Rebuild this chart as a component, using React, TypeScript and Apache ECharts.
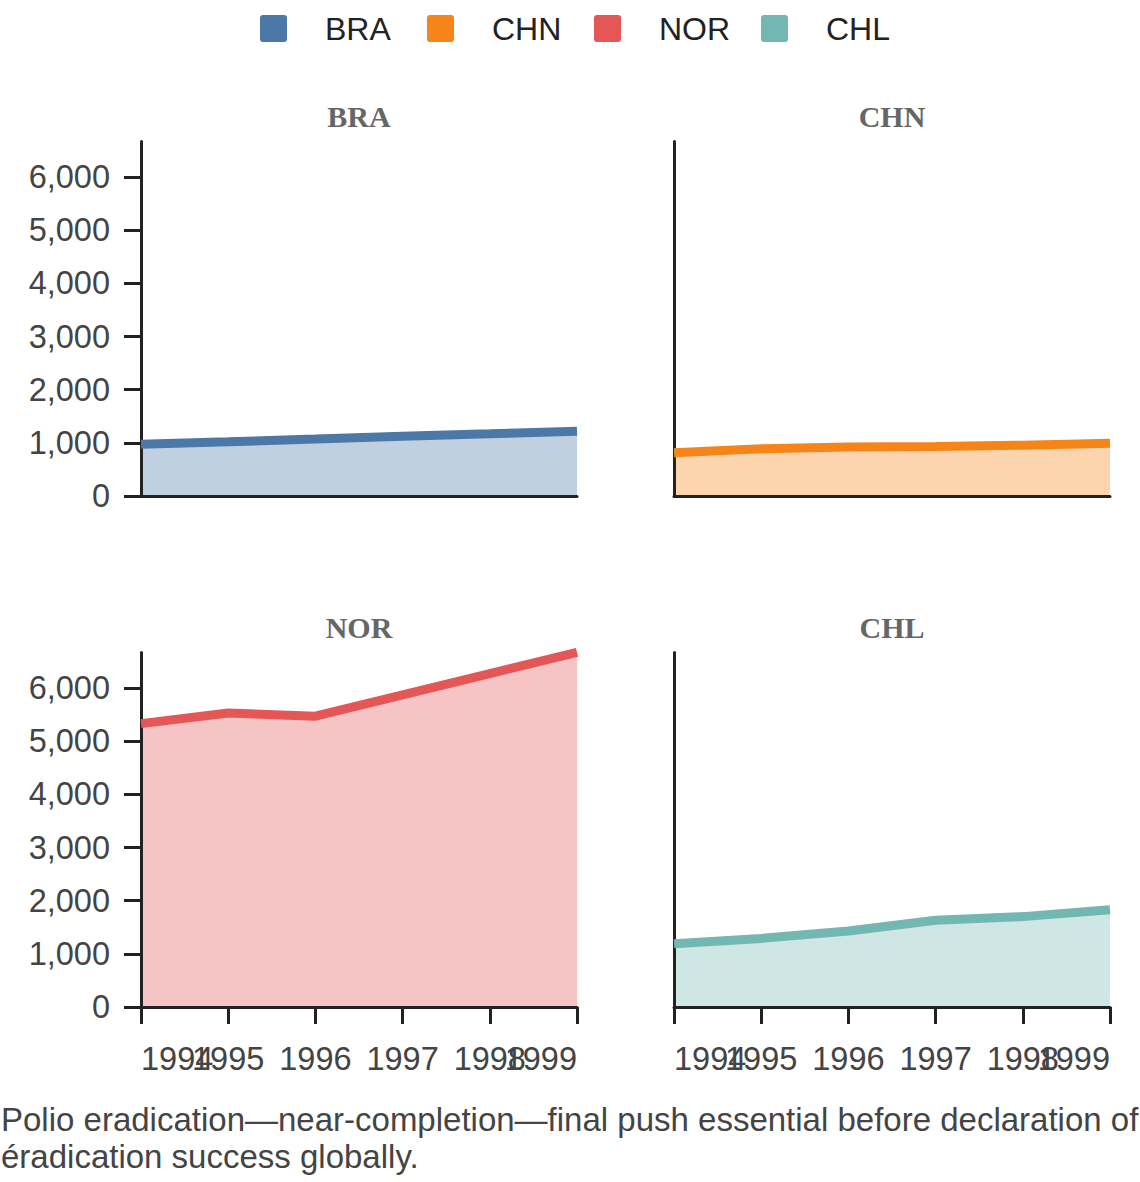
import React, { useEffect, useRef } from "react";
import * as echarts from "echarts";

const years = ["1994", "1995", "1996", "1997", "1998", "1999"];
const countries = ["BRA", "CHN", "NOR", "CHL"];
const braValues = [975, 1020, 1070, 1125, 1170, 1220];
const chnValues = [815, 890, 920, 930, 955, 990];
const norValues = [5330, 5530, 5470, 5870, 6270, 6670];
const chlValues = [1190, 1290, 1430, 1630, 1700, 1830];
const yTicks = [0, 1000, 2000, 3000, 4000, 5000, 6000];
const colors = ["#4c78a8", "#f58518", "#e45756", "#72b7b2"];
const caption =
  "Polio eradication\u2014near-completion\u2014final push essential before declaration of\n\u00e9radication success globally.";

const seriesValues = [braValues, chnValues, norValues, chlValues];

export default function App() {
  const ref = useRef<HTMLDivElement>(null);

  useEffect(() => {
    document.body.style.margin = "0";
    if (!ref.current) return;
    const chart = echarts.init(ref.current, null, { renderer: "svg" });

    const yMax = Math.max(...seriesValues.flat());
    const pxPerUnit = 319 / 6000;
    const plotH = yMax * pxPerUnit;
    const lefts = [141, 674, 141, 674];
    const bottoms = [496, 496, 1007, 1007];
    const plotW = 436;
    const font = "'Liberation Sans', Arial, sans-serif";

    const grids = countries.map((_, i) => ({
      left: lefts[i],
      top: bottoms[i] - plotH,
      width: plotW,
      height: plotH,
      containLabel: false,
    }));

    const xAxes = countries.map((_, i) => {
      const bottomRow = i >= 2;
      return {
        type: "category",
        gridIndex: i,
        data: years,
        boundaryGap: false,
        z: 3,
        axisLine: { show: true, onZero: true, lineStyle: { color: "#222", width: 3 } },
        axisTick: {
          show: bottomRow,
          interval: 0,
          length: 17,
          lineStyle: { color: "#222", width: 3 },
        },
        axisLabel: {
          show: bottomRow,
          interval: 0,
          hideOverlap: false,
          alignMinLabel: "left",
          alignMaxLabel: "right",
          fontSize: 32.5,
          fontFamily: font,
          color: "#444",
          margin: 35,
        },
        splitLine: { show: false },
      };
    });

    const yAxes = countries.map((_, i) => {
      const leftCol = i % 2 === 0;
      return {
        type: "value",
        gridIndex: i,
        min: 0,
        max: yMax,
        z: 3,
        axisLine: { show: true, lineStyle: { color: "#222", width: 3 } },
        axisTick: {
          show: leftCol,
          length: 17,
          customValues: yTicks,
          lineStyle: { color: "#222", width: 3 },
        },
        axisLabel: {
          show: leftCol,
          customValues: yTicks,
          formatter: (v: number) => v.toLocaleString("en-US"),
          fontSize: 32.5,
          fontFamily: font,
          color: "#444",
          margin: 31,
        },
        splitLine: { show: false },
      };
    });

    const series = countries.map((name, i) => ({
      name,
      type: "line",
      xAxisIndex: i,
      yAxisIndex: i,
      data: seriesValues[i],
      symbol: "none",
      clip: false,
      lineStyle: { color: colors[i], width: 9, cap: "butt" },
      itemStyle: { color: colors[i] },
      areaStyle: { color: colors[i], opacity: 0.35 },
    }));

    const graphics: any[] = [];
    countries.forEach((name, i) => {
      graphics.push({
        type: "rect",
        shape: { x: 260 + 167 * i, y: 15, width: 27, height: 27, r: 3 },
        style: { fill: colors[i] },
      });
      graphics.push({
        type: "text",
        x: 325 + 167 * i,
        y: 29,
        style: {
          text: name,
          fill: "#222",
          font: `32px ${font}`,
          verticalAlign: "middle",
          align: "left",
        },
      });
      graphics.push({
        type: "text",
        x: lefts[i] + plotW / 2,
        y: bottoms[i] - 380,
        style: {
          text: name,
          fill: "#666",
          font: `bold 30px 'Liberation Serif', 'Times New Roman', serif`,
          align: "center",
          verticalAlign: "middle",
        },
      });
    });
    graphics.push({
      type: "text",
      x: 1,
      y: 1101,
      style: {
        text: caption,
        fill: "#444",
        font: `33px ${font}`,
        lineHeight: 37,
        align: "left",
        verticalAlign: "top",
      },
    });

    chart.setOption({
      animation: false,
      backgroundColor: "#fff",
      grid: grids,
      xAxis: xAxes,
      yAxis: yAxes,
      series,
      graphic: graphics,
    });

    return () => chart.dispose();
  }, []);

  return <div ref={ref} style={{ width: 1140, height: 1182 }} />;
}
